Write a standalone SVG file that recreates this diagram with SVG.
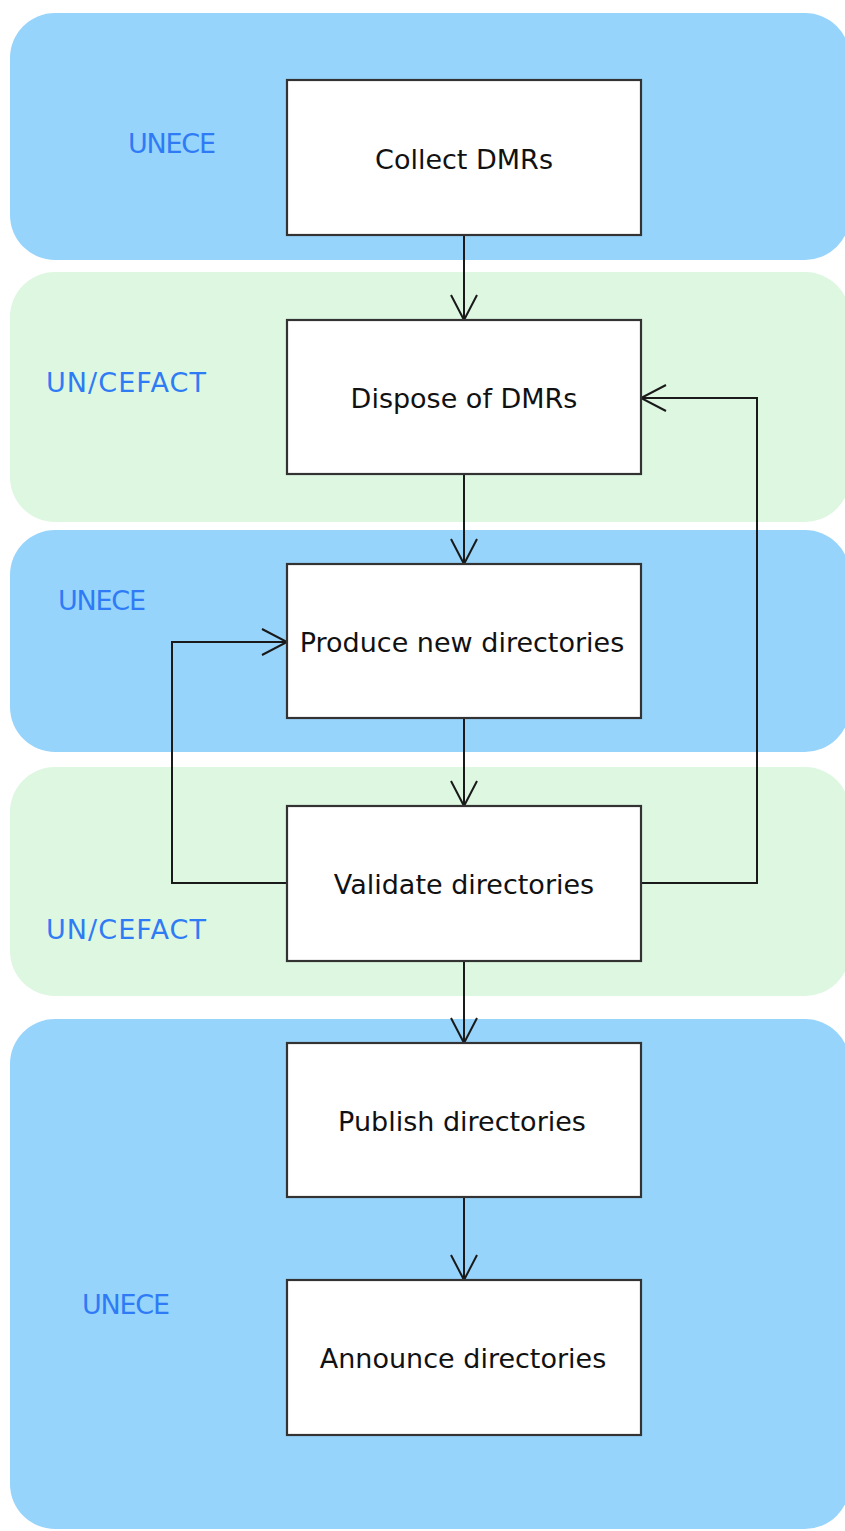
<svg xmlns="http://www.w3.org/2000/svg" width="845" height="1531" viewBox="0 0 845 1531">
<style>
.lane-b{fill:#97d4fc}
.lane-g{fill:#ddf7e1}
.box{fill:#ffffff;stroke:#333333;stroke-width:2.2}
.t{font-family:"DejaVu Sans",Verdana,sans-serif;font-size:27px;fill:#111;text-anchor:middle}
.lbl{font-family:"DejaVu Sans",Verdana,sans-serif;font-size:27px;fill:#2f7bf5}
.c{fill:none;stroke:#1a1a1a;stroke-width:2}
</style>
<defs>
<marker id="arr" markerUnits="userSpaceOnUse" viewBox="0 0 30 30" refX="27" refY="15" markerWidth="30" markerHeight="30" orient="auto">
<path d="M2,2 L27,15 L2,28" fill="none" stroke="#1a1a1a" stroke-width="2"/>
</marker>
</defs>
<g id="lanes">
<rect id="lane1" class="lane-b" x="10" y="13" width="840" height="247" rx="45"/>
<rect id="lane2" class="lane-g" x="10" y="272" width="840" height="250" rx="45"/>
<rect id="lane3" class="lane-b" x="10" y="530" width="840" height="222" rx="45"/>
<rect id="lane4" class="lane-g" x="10" y="767" width="840" height="229" rx="45"/>
<rect id="lane5" class="lane-b" x="10" y="1019" width="840" height="510" rx="45"/>
<text class="lbl" x="128" y="153" textLength="88">UNECE</text>
<text class="lbl" x="46" y="392" textLength="160">UN/CEFACT</text>
<text class="lbl" x="58" y="610" textLength="88">UNECE</text>
<text class="lbl" x="46" y="939" textLength="160">UN/CEFACT</text>
<text class="lbl" x="82" y="1314" textLength="88">UNECE</text>
</g>
<g id="connectors">
<line class="c" x1="464" y1="236" x2="464" y2="320" marker-end="url(#arr)"/>
<line class="c" x1="464" y1="475" x2="464" y2="564" marker-end="url(#arr)"/>
<line class="c" x1="464" y1="719" x2="464" y2="806" marker-end="url(#arr)"/>
<line class="c" x1="464" y1="962" x2="464" y2="1043" marker-end="url(#arr)"/>
<line class="c" x1="464" y1="1198" x2="464" y2="1280" marker-end="url(#arr)"/>
<polyline class="c" points="641,883 757,883 757,398 641,398" marker-end="url(#arr)"/>
<polyline class="c" points="287,883 172,883 172,642 287,642" marker-end="url(#arr)"/>
</g>
<g id="n1"><rect class="box" x="287" y="80" width="354" height="155"/><text class="t" x="464" y="169">Collect DMRs</text></g>
<g id="n2"><rect class="box" x="287" y="320" width="354" height="154"/><text class="t" x="464" y="408">Dispose of DMRs</text></g>
<g id="n3"><rect class="box" x="287" y="564" width="354" height="154"/><text class="t" x="462" y="652">Produce new directories</text></g>
<g id="n4"><rect class="box" x="287" y="806" width="354" height="155"/><text class="t" x="464" y="894">Validate directories</text></g>
<g id="n5"><rect class="box" x="287" y="1043" width="354" height="154"/><text class="t" x="462" y="1131">Publish directories</text></g>
<g id="n6"><rect class="box" x="287" y="1280" width="354" height="155"/><text class="t" x="463" y="1368">Announce directories</text></g>
</svg>
